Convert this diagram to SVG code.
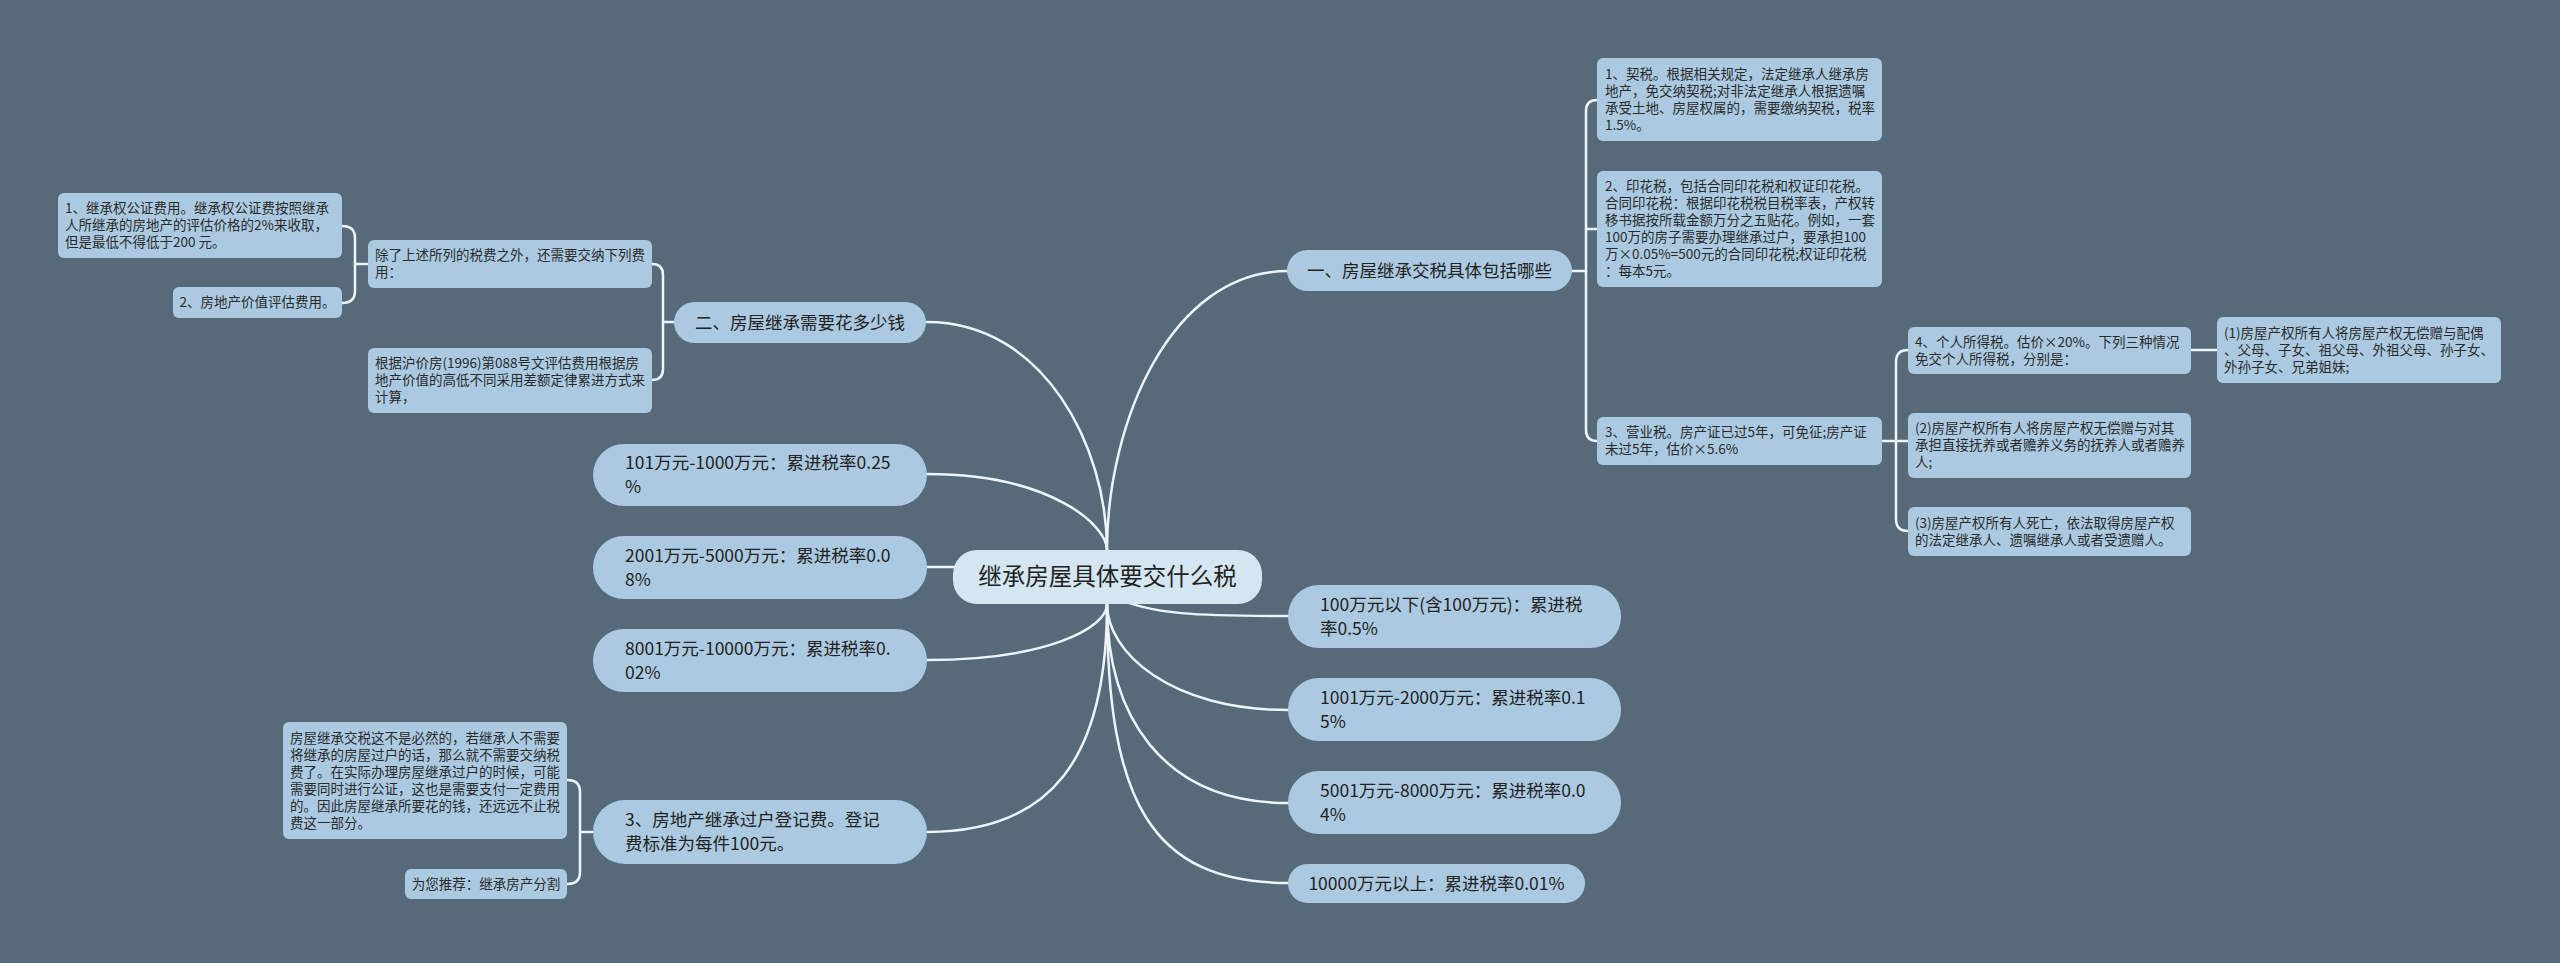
<svg xmlns="http://www.w3.org/2000/svg" width="2560" height="963" viewBox="0 0 2560 963">
<style>
.bg{fill:#566a79}
.n rect{fill:#abcae1}
.c rect{fill:#d3e6f2}
.l1 text{font-family:"Noto Sans CJK SC","Noto Sans",sans-serif;font-size:17.5px;fill:#222}
.lf text{font-family:"Noto Sans CJK SC","Noto Sans",sans-serif;font-size:13.5px;fill:#2a2a2a}
.c text{font-family:"Noto Sans CJK SC","Noto Sans",sans-serif;font-size:23.5px;fill:#222}
#connectors path{fill:none;stroke:#eef5fa;stroke-width:2.5;stroke-linecap:round}
</style>
<rect class="bg" x="0" y="0" width="2560" height="963"/>
<g id="connectors">
<path d="M1107,550 C1107,424 1170,271 1288,271"/>
<path d="M1107,550 C1107,447 1044,322 927,322"/>
<path d="M1107,550 C1107,525 1050,474 927,474"/>
<path d="M927,567 L960,567"/>
<path d="M1107,604 C1107,629 1044,660 927,660"/>
<path d="M1107,604 C1107,760 1050,832 927,832"/>
<path d="M1112,596 C1150,615 1200,616 1288,616"/>
<path d="M1107,604 C1107,652 1170,710 1288,710"/>
<path d="M1107,604 C1107,713 1160,803 1288,803"/>
<path d="M1107,604 C1107,800 1150,883 1288,883"/>
<path d="M1572,271 H1586"/>
<path d="M1597,100 Q1586,100 1586,111 V430 Q1586,441 1597,441"/>
<path d="M1586,229 H1597"/>
<path d="M1882,441 H1908"/>
<path d="M1908,350 Q1896,350 1896,362 V519 Q1896,531 1908,531"/>
<path d="M2191,350 H2217"/>
<path d="M674,322 H663"/>
<path d="M652,264 Q663,264 663,275 V369 Q663,380 652,380"/>
<path d="M368,264 H355"/>
<path d="M342,226 Q355,226 355,238 V291 Q355,303 342,303"/>
<path d="M593,832 H580"/>
<path d="M567,780 Q580,780 580,792 V872 Q580,884 567,884"/>
</g>
<g id="center" class="c">
<rect x="953" y="550" width="309" height="54" rx="24"/>
<text x="1107.5" y="585" text-anchor="middle">继承房屋具体要交什么税</text>
</g>
<g id="b1" class="n l1">
<rect x="1287" y="250" width="285" height="41" rx="20.5"/>
<text x="1429.5" y="276.5" text-anchor="middle">一、房屋继承交税具体包括哪些</text>
</g>
<g id="b2" class="n l1">
<rect x="674" y="302" width="252" height="41" rx="20.5"/>
<text x="800" y="328.5" text-anchor="middle">二、房屋继承需要花多少钱</text>
</g>
<g id="r101" class="n l1">
<rect x="593" y="444" width="334" height="62" rx="31"/>
<text x="625" y="468.5">101万元-1000万元：累进税率0.25</text>
<text x="625" y="492.5">%</text>
</g>
<g id="r2001" class="n l1">
<rect x="593" y="536" width="334" height="63" rx="31"/>
<text x="625" y="561.5">2001万元-5000万元：累进税率0.0</text>
<text x="625" y="585.5">8%</text>
</g>
<g id="r8001" class="n l1">
<rect x="593" y="629" width="334" height="63" rx="31"/>
<text x="625" y="654.5">8001万元-10000万元：累进税率0.</text>
<text x="625" y="678.5">02%</text>
</g>
<g id="b3" class="n l1">
<rect x="593" y="800" width="334" height="64" rx="32"/>
<text x="625" y="826">3、房地产继承过户登记费。登记</text>
<text x="625" y="850">费标准为每件100元。</text>
</g>
<g id="r100" class="n l1">
<rect x="1288" y="585" width="333" height="63" rx="31"/>
<text x="1320" y="610.5">100万元以下(含100万元)：累进税</text>
<text x="1320" y="634.5">率0.5%</text>
</g>
<g id="r1001" class="n l1">
<rect x="1288" y="678" width="333" height="63" rx="31"/>
<text x="1320" y="703.5">1001万元-2000万元：累进税率0.1</text>
<text x="1320" y="727.5">5%</text>
</g>
<g id="r5001" class="n l1">
<rect x="1288" y="771" width="333" height="63" rx="31"/>
<text x="1320" y="796.5">5001万元-8000万元：累进税率0.0</text>
<text x="1320" y="820.5">4%</text>
</g>
<g id="r10000" class="n l1">
<rect x="1288" y="864" width="297" height="39" rx="19.5"/>
<text x="1436.5" y="889.5" text-anchor="middle">10000万元以上：累进税率0.01%</text>
</g>
<g id="qishui" class="n lf">
<rect x="1597" y="58" width="285" height="83" rx="6"/>
<text x="1605" y="78.7">1、契税。根据相关规定，法定继承人继承房</text>
<text x="1605" y="95.7">地产，免交纳契税;对非法定继承人根据遗嘱</text>
<text x="1605" y="112.7">承受土地、房屋权属的，需要缴纳契税，税率</text>
<text x="1605" y="129.7">1.5%。</text>
</g>
<g id="yinhua" class="n lf">
<rect x="1597" y="171" width="285" height="116" rx="6"/>
<text x="1605" y="191.2">2、印花税，包括合同印花税和权证印花税。</text>
<text x="1605" y="208.2">合同印花税：根据印花税税目税率表，产权转</text>
<text x="1605" y="225.2">移书据按所载金额万分之五贴花。例如，一套</text>
<text x="1605" y="242.2">100万的房子需要办理继承过户，要承担100</text>
<text x="1605" y="259.2">万×0.05%=500元的合同印花税;权证印花税</text>
<text x="1605" y="276.2">：每本5元。</text>
</g>
<g id="yingye" class="n lf">
<rect x="1597" y="417" width="285" height="48" rx="6"/>
<text x="1605" y="437.2">3、营业税。房产证已过5年，可免征;房产证</text>
<text x="1605" y="454.2">未过5年，估价×5.6%</text>
</g>
<g id="geren" class="n lf">
<rect x="1908" y="327" width="283" height="47" rx="6"/>
<text x="1915" y="346.7">4、个人所得税。估价×20%。下列三种情况</text>
<text x="1915" y="363.7">免交个人所得税，分别是：</text>
</g>
<g id="mian1" class="n lf">
<rect x="2217" y="317" width="284" height="66" rx="6"/>
<text x="2224" y="337.7">(1)房屋产权所有人将房屋产权无偿赠与配偶</text>
<text x="2224" y="354.7">、父母、子女、祖父母、外祖父母、孙子女、</text>
<text x="2224" y="371.7">外孙子女、兄弟姐妹;</text>
</g>
<g id="mian2" class="n lf">
<rect x="1908" y="413" width="283" height="65" rx="6"/>
<text x="1915" y="433.2">(2)房屋产权所有人将房屋产权无偿赠与对其</text>
<text x="1915" y="450.2">承担直接抚养或者赡养义务的抚养人或者赡养</text>
<text x="1915" y="467.2">人;</text>
</g>
<g id="mian3" class="n lf">
<rect x="1908" y="507" width="283" height="49" rx="6"/>
<text x="1915" y="527.7">(3)房屋产权所有人死亡，依法取得房屋产权</text>
<text x="1915" y="544.7">的法定继承人、遗嘱继承人或者受遗赠人。</text>
</g>
<g id="chule" class="n lf">
<rect x="368" y="240" width="284" height="48" rx="6"/>
<text x="375" y="260.2">除了上述所列的税费之外，还需要交纳下列费</text>
<text x="375" y="277.2">用：</text>
</g>
<g id="gongzheng" class="n lf">
<rect x="58" y="193" width="284" height="65" rx="6"/>
<text x="65" y="213.2">1、继承权公证费用。继承权公证费按照继承</text>
<text x="65" y="230.2">人所继承的房地产的评估价格的2%来收取，</text>
<text x="65" y="247.2">但是最低不得低于200 元。</text>
</g>
<g id="pinggu" class="n lf">
<rect x="173" y="287" width="169" height="31" rx="6"/>
<text x="257.5" y="307.2" text-anchor="middle">2、房地产价值评估费用。</text>
</g>
<g id="hujia" class="n lf">
<rect x="368" y="348" width="284" height="65" rx="6"/>
<text x="375" y="368.2">根据沪价房(1996)第088号文评估费用根据房</text>
<text x="375" y="385.2">地产价值的高低不同采用差额定律累进方式来</text>
<text x="375" y="402.2">计算，</text>
</g>
<g id="biran" class="n lf">
<rect x="283" y="722" width="284" height="117" rx="6"/>
<text x="290" y="742.7">房屋继承交税这不是必然的，若继承人不需要</text>
<text x="290" y="759.7">将继承的房屋过户的话，那么就不需要交纳税</text>
<text x="290" y="776.7">费了。在实际办理房屋继承过户的时候，可能</text>
<text x="290" y="793.7">需要同时进行公证，这也是需要支付一定费用</text>
<text x="290" y="810.7">的。因此房屋继承所要花的钱，还远远不止税</text>
<text x="290" y="827.7">费这一部分。</text>
</g>
<g id="tuijian" class="n lf">
<rect x="405" y="869" width="162" height="30" rx="6"/>
<text x="486" y="888.7" text-anchor="middle">为您推荐：继承房产分割</text>
</g>
</svg>
